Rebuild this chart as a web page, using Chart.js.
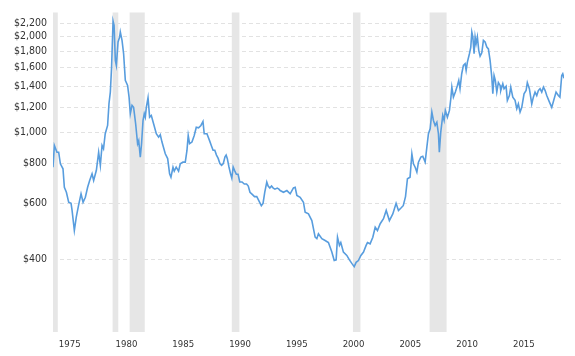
<!DOCTYPE html>
<html>
<head>
<meta charset="utf-8">
<script src="https://cdn.jsdelivr.net/npm/chart.js@4"></script>
<style>
  html, body { margin: 0; padding: 0; background: #ffffff; }
  canvas { display: block; }
</style>
</head>
<body>
<canvas id="c" width="575" height="356"></canvas>
<script>
// Decimal year of each observation
const years = [
  1974.75, 1974.87, 1975.1, 1975.25, 1975.4, 1975.63, 1975.75, 1975.93,
  1976.13, 1976.34, 1976.43, 1976.63, 1976.8, 1977.0, 1977.22, 1977.4, 1977.6, 1977.8, 1977.98,
  1978.19, 1978.33, 1978.57, 1978.77, 1978.92, 1979.07, 1979.2, 1979.35, 1979.56, 1979.68, 1979.8, 1979.91,
  1980.04, 1980.13, 1980.24, 1980.33, 1980.48, 1980.62, 1980.68, 1980.83, 1980.97,
  1981.12, 1981.32, 1981.45, 1981.56, 1981.71, 1981.85,
  1982.03, 1982.2, 1982.3, 1982.44, 1982.55, 1982.68, 1982.79, 1982.88, 1982.97,
  1983.12, 1983.26, 1983.41, 1983.61, 1983.85,
  1984.05, 1984.2, 1984.35, 1984.64, 1984.85,
  1985.02, 1985.14, 1985.32, 1985.43, 1985.6, 1985.81, 1985.96,
  1986.2, 1986.4, 1986.55, 1986.66, 1986.78, 1986.99,
  1987.19, 1987.37, 1987.57, 1987.78, 1987.96,
  1988.07, 1988.31, 1988.54, 1988.7, 1988.85,
  1989.0, 1989.15, 1989.3, 1989.45, 1989.6, 1989.75, 1989.9,
  1990.0, 1990.1, 1990.25, 1990.4, 1990.5, 1990.62, 1990.75, 1990.9,
  1991.05, 1991.2, 1991.4, 1991.6, 1991.8, 1991.95,
  1992.1, 1992.3, 1992.5, 1992.7, 1992.9,
  1993.1, 1993.25, 1993.4, 1993.58, 1993.7, 1993.85,
  1994.0, 1994.15, 1994.3, 1994.5, 1994.65, 1994.76,
  1995.05, 1995.35, 1995.64, 1995.93,
  1996.08, 1996.23, 1996.52, 1996.81, 1996.96,
  1997.25, 1997.55, 1997.84, 1997.99,
  1998.13, 1998.43, 1998.72,
  1999.01, 1999.31, 1999.52, 1999.69, 1999.81, 1999.98,
  2000.1, 2000.33, 2000.63, 2000.86,
  2001.07, 2001.28, 2001.45, 2001.65, 2001.87,
  2002.1, 2002.33, 2002.45, 2002.68, 2002.92,
  2003.13, 2003.33, 2003.57, 2003.86,
  2004.1, 2004.38, 2004.68, 2004.97,
  2005.18, 2005.4, 2005.6, 2005.8, 2005.97,
  2006.2, 2006.36, 2006.5, 2006.65, 2006.8, 2006.94,
  2007.15, 2007.32, 2007.53, 2007.68, 2007.82, 2007.97,
  2008.12, 2008.26, 2008.41, 2008.56, 2008.7, 2008.78, 2008.9,
  2009.08, 2009.2, 2009.31, 2009.49, 2009.67, 2009.79, 2009.88,
  2010.02, 2010.19, 2010.37, 2010.49, 2010.6, 2010.75, 2010.9,
  2011.05, 2011.14, 2011.25, 2011.43, 2011.55, 2011.64, 2011.73, 2011.84, 2011.93,
  2012.02, 2012.13, 2012.25, 2012.37, 2012.52, 2012.66, 2012.81, 2012.96,
  2013.1, 2013.25, 2013.4, 2013.49, 2013.6, 2013.71, 2013.84, 2013.98,
  2014.13, 2014.19, 2014.37, 2014.48, 2014.66, 2014.77, 2014.95,
  2015.07, 2015.25, 2015.45, 2015.6, 2015.74, 2015.89,
  2016.04, 2016.24, 2016.42, 2016.53, 2016.71, 2016.92,
  2017.06, 2017.21, 2017.36, 2017.5, 2017.65, 2017.8, 2017.95,
  2018.1, 2018.24, 2018.47, 2018.68, 2018.82,
  2019.06, 2019.26, 2019.4, 2019.56, 2019.65, 2019.76
];

// Inflation-adjusted gold price (USD / oz)
const prices = [
  779, 912, 868, 868, 798, 770, 674, 650,
  605, 600, 570, 493, 543, 591, 643, 605, 627, 674, 708,
  743, 708, 762, 868, 789, 912, 890, 992, 1053, 1232, 1340, 1604,
  2238, 2170, 1685, 1625, 1924, 1995, 2067, 1947, 1767,
  1458, 1406, 1292, 1146, 1217, 1200,
  1066, 923, 944, 838, 923, 1092, 1146, 1118, 1200,
  1286, 1118, 1132, 1066, 992,
  968, 985, 934, 858, 829,
  743, 725, 779, 757, 779, 757, 798,
  808, 808, 879, 980, 923, 934,
  980, 1040, 1035, 1053, 1084,
  992, 992, 944, 910, 880,
  880, 850, 830, 800, 790, 800, 840,
  850, 830, 780, 740, 720, 780, 760, 740,
  740, 700, 700, 690, 690, 680,
  650, 640, 630, 630, 610,
  590, 600, 650, 700, 680, 670,
  680, 670, 665, 670, 665, 658,
  650, 658, 643, 671,
  674, 635, 627, 605, 563,
  556, 530, 470, 465,
  482, 465, 459,
  452, 422, 397, 399, 470, 443,
  452, 422, 412, 399,
  389, 380, 392, 397, 412,
  422, 443, 452, 448, 470,
  505, 493, 518, 537,
  570, 530, 556, 600,
  570, 580, 590, 630, 717,
  725, 858, 798, 779, 752, 808,
  838, 843, 808, 900, 992, 1028,
  1160, 1092, 1053, 1077, 992, 868, 1000,
  1132, 1092, 1174, 1118, 1174, 1277, 1389,
  1292, 1340, 1406, 1458, 1373, 1530, 1625,
  1645, 1567, 1664, 1767, 1854, 2067, 1995, 1767, 1995,
  1901, 1995, 1811, 1737, 1780, 1947, 1924, 1854,
  1830, 1685, 1493, 1324, 1511, 1458, 1340, 1435,
  1406, 1355, 1423, 1373, 1397, 1262, 1307,
  1389, 1292, 1262, 1188, 1230, 1160,
  1200, 1324, 1355, 1435, 1373, 1230,
  1292, 1340, 1307, 1355, 1373, 1340, 1389,
  1355, 1307, 1249, 1200, 1249,
  1340, 1307, 1292, 1511, 1530, 1480
];

// US recession periods (decimal years)
const recessionStarts = [1973.83, 1980.0, 1981.5, 1990.5, 2001.17, 2007.92];
const recessionEnds   = [1975.17, 1980.5, 1982.83, 1991.17, 2001.83, 2009.42];

const xTickYears = [1975, 1980, 1985, 1990, 1995, 2000, 2005, 2010, 2015];
const yTickValues = [400, 600, 800, 1000, 1200, 1400, 1600, 1800, 2000, 2200];

const recessionPlugin = {
  id: 'recessions',
  beforeDatasetsDraw(chart) {
    const { ctx, chartArea, scales } = chart;
    const xs = scales.x;
    ctx.save();
    ctx.beginPath();
    ctx.rect(chartArea.left, chartArea.top, chartArea.right - chartArea.left, chartArea.bottom - chartArea.top);
    ctx.clip();
    ctx.fillStyle = '#e6e6e6';
    for (let i = 0; i < recessionStarts.length; i++) {
      const a = xs.getPixelForValue(recessionStarts[i]);
      const b = xs.getPixelForValue(recessionEnds[i]);
      ctx.fillRect(a, chartArea.top, b - a, chartArea.bottom - chartArea.top);
    }
    ctx.restore();
  }
};

const FONT = '"DejaVu Sans Condensed", "DejaVu Sans", "Liberation Sans", sans-serif';

new Chart(document.getElementById('c'), {
  type: 'line',
  data: {
    datasets: [{
      data: years.map((y, i) => ({ x: y, y: prices[i] })),
      borderColor: '#589dde',
      borderWidth: 1.6,
      pointRadius: 0,
      tension: 0,
      fill: false
    }]
  },
  options: {
    responsive: false,
    animation: false,
    layout: { padding: { top: 12, right: 11, bottom: 0, left: 0 } },
    plugins: { legend: { display: false }, tooltip: { enabled: false } },
    scales: {
      x: {
        type: 'linear',
        min: 1974.75,
        max: 2019.76,
        afterBuildTicks(scale) { scale.ticks = xTickYears.map(v => ({ value: v })); },
        afterFit(scale) { scale.height = 24; },
        grid: { display: false, drawTicks: false },
        border: { display: false },
        ticks: {
          align: 'start',
          labelOffset: 3,
          padding: 7,
          maxRotation: 0,
          autoSkip: false,
          color: '#333',
          font: { family: FONT, size: 9.5 },
          callback: v => String(v)
        }
      },
      y: {
        type: 'logarithmic',
        min: 237,
        max: 2384,
        afterBuildTicks(scale) { scale.ticks = yTickValues.map(v => ({ value: v })); },
        afterFit(scale) { scale.width = 53; },
        grid: { color: '#e2e2e2', lineWidth: 1, drawTicks: false },
        border: { display: false, dash: [4, 3] },
        ticks: {
          padding: 6,
          autoSkip: false,
          color: '#333',
          font: { family: FONT, size: 10.5 },
          callback: v => '$' + Number(v).toLocaleString('en-US')
        }
      }
    }
  },
  plugins: [recessionPlugin]
});
</script>
</body>
</html>
